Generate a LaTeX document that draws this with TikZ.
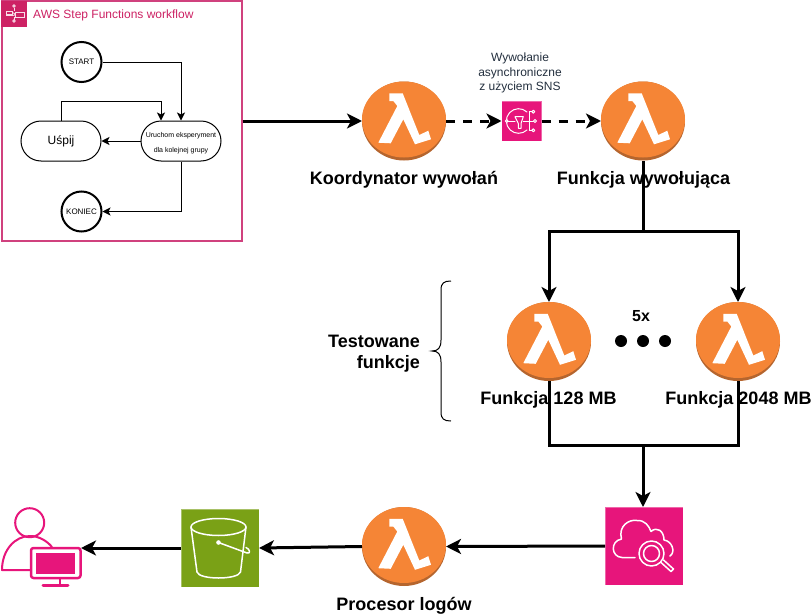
\documentclass[tikz,border=0pt]{standalone}
\usepackage{fontspec}
\setmainfont{Liberation Sans}
\usetikzlibrary{arrows.meta,shapes.geometric,decorations.pathreplacing}
\definecolor{lamorange}{HTML}{F58536}
\definecolor{lamshadow}{HTML}{B5652E}
\definecolor{awspink}{HTML}{E7157B}
\definecolor{sfpink}{HTML}{CD2264}
\definecolor{framepink}{HTML}{D0417E}
\definecolor{bucketgreen}{HTML}{7AA116}
\definecolor{slatetext}{HTML}{232F3E}
\tikzset{
  lambdanode/.style={ellipse,minimum width=84pt,minimum height=79pt,inner sep=0pt,outer sep=0pt},
  conn/.style={draw=black,line width=3pt,-{Stealth[length=15pt,width=15pt,inset=4pt]}},
  connplain/.style={draw=black,line width=3pt},
  dashconn/.style={conn,dash pattern=on 9pt off 8pt},
  thinconn/.style={draw=black,line width=1pt,-{Stealth[length=8pt,width=8pt,inset=2pt]}},
  titlelabel/.style={font=\bfseries\fontsize{18}{21}\selectfont,inner sep=0pt,align=center},
  statecircle/.style={circle,draw=black,line width=2pt,minimum size=40pt,inner sep=0pt,font=\fontsize{8}{10}\selectfont},
  statepill/.style={rounded corners=20pt,draw=black,line width=1pt,minimum width=80pt,minimum height=40pt,inner sep=0pt},
  iconbox/.style={inner sep=0pt,outer sep=0pt,draw opacity=.35,draw=white,line width=.8pt},
  iconline/.style={draw=white,line width=1.5pt,fill=none,line cap=round,line join=round},
  userline/.style={draw=awspink,line width=2pt,fill=none,line join=round,line cap=round}
}
\newcommand{\lambdaicon}[3]{%
  \fill[lamshadow] (#2,#3) ellipse [x radius=42pt,y radius=39.5pt];
  \fill[lamorange] (#2,#3-1.5) ellipse [x radius=42pt,y radius=38pt];
  \node[lambdanode] (#1) at (#2,#3) {};
  \fill[white,shift={(#2,#3)}] (-14.7,-27.7) -- (-1.3,-27.7) -- (15.3,14) -- (24.3,9.7) -- (27,18.3)
    -- (11,23.3) -- (-0.7,-1.7) -- (-13.3,22.3) -- (-25.7,21.7) -- (-6.7,-15) -- (-10.7,-20) -- (-14.7,-20) -- cycle;
}
\begin{document}
\begin{tikzpicture}[x=1pt,y=-1pt]
\useasboundingbox (0,0) rectangle (812,616);
% workflow frame
\node[draw=framepink,line width=2pt,fill=white,minimum width=240pt,minimum height=240pt,inner sep=0pt,outer sep=1pt] (frame) at (121.5,121) {};
\fill[sfpink] (1,1) rectangle (26.5,26.5);
\begin{scope}[draw=white!85!sfpink,line width=.8pt]
  \draw (6,11) rectangle (12.5,14) (6,15.5) -- (12.5,15.5);
  \draw (15,12.5) rectangle (24,17);
  \draw (12.5,12.5) -- (15,14) (12.5,15.5) -- (15,15);
  \draw (14,7.5) -- (14,11) (14,17) -- (14,20);
  \draw (14,6) circle (1.3pt) (14,21) circle (1.3pt);
\end{scope}
\node[anchor=west,inner sep=0pt,text=sfpink,font=\fontsize{12}{14}\selectfont] (frametitle) at (33,15) {AWS Step Functions workflow};
\node[statecircle,text depth=-1pt] (start) at (81.5,62) {START};
\node[statecircle,text depth=-1pt] (koniec) at (81.5,211.5) {KONIEC};
\node[statepill,font=\fontsize{12}{14}\selectfont] (uspij) at (61,141) {Uśpij};
\node[statepill] (uruchom) at (181,141) {};
\node[inner sep=0pt,align=center,font=\fontsize{7}{15}\selectfont] (uruchomtext) at (181,143.5) {Uruchom eksperyment\\dla kolejnej grupy};
\coordinate (sleepa) at (61,101);
\coordinate (sleepb) at (161,101);
\draw[thinconn] (start.east) -| (uruchom.north);
\draw[thinconn] (uspij.north) -- (sleepa) -- (sleepb) -- (uruchom.north -| sleepb);
\draw[thinconn] (uruchom.west) -- (uspij.east);
\draw[thinconn] (uruchom.south) |- (koniec.east);
% lambdas
\lambdaicon{coord}{404}{121}
\lambdaicon{invoker}{643}{121}
\lambdaicon{fsmall}{549}{341.5}
\lambdaicon{fbig}{738}{341.5}
\lambdaicon{proc}{404}{546.5}
% labels
\node[titlelabel] (lcoord) at (404,179.5) {Koordynator wywołań};
\node[titlelabel] (linvoker) at (643.5,179.5) {Funkcja wywołująca};
\node[titlelabel] (lsmall) at (548.5,399.5) {Funkcja 128 MB};
\node[titlelabel] (lbig) at (738.5,399.5) {Funkcja 2048 MB};
\node[titlelabel] (lproc) at (404,605.5) {Procesor logów};
\node[titlelabel,font=\bfseries\fontsize{16}{19}\selectfont] (lfive) at (641,316) {5x};
\node[titlelabel,align=right,anchor=east,font=\bfseries\fontsize{18}{21.5}\selectfont] (ltest) at (420,353.5) {Testowane\\funkcje};
\node[inner sep=0pt,align=center,text=slatetext,font=\fontsize{12}{14.5}\selectfont] (lsns) at (520,73) {Wywołanie\\asynchroniczne\\z użyciem SNS};
% dots
\fill[black] (621,341) circle (6pt) (643,341) circle (6pt) (665,341) circle (6pt);
% brace
\draw[line width=1pt,black] (451,281) .. controls (444,281) and (441,283) .. (441,290) -- (441,340)
  .. controls (441,348) and (438,351) .. (432,351) .. controls (438,351) and (441,354) .. (441,362)
  -- (441,412) .. controls (441,419) and (444,421) .. (451,421);
% SNS
\node[fill=awspink,iconbox,minimum size=40pt] (sns) at (521.5,121) {};
\begin{scope}[shift={(521.5,121)},iconline/.append style={line width=1pt}]
  \draw[iconline] (5.5,-9) arc[start angle=-47,end angle=-313,radius=12.3];
  \draw[iconline] (-14.2,0) -- (-6.5,0) (1.8,0) -- (12,0) (7.8,-9.3) -- (7.8,9.3) (7.8,-9.3) -- (10.5,-9.3) (7.8,9.3) -- (10.5,9.3);
  \draw[iconline] (-6.5,-4.3) -- (1.8,-4.3) -- (-0.5,2.5) -- (-0.5,7.3) -- (-3.2,7.3) -- (-3.2,2.5) -- cycle;
  \draw[iconline,fill=awspink] (-14.8,0) circle (1.4pt) (11.8,-9.3) circle (1.5pt) (13.5,0) circle (1.5pt) (11.8,9.3) circle (1.5pt);
\end{scope}
% CloudWatch
\node[fill=awspink,iconbox,minimum size=78pt] (cw) at (644,546) {};
\draw[iconline] (635,557.5) -- (622,557.5) .. controls (611,557) and (610,541) .. (621.5,539)
  .. controls (618,526) and (629,519) .. (637,520.5) .. controls (645,520) and (649,526) .. (651,531.5)
  .. controls (657,526) and (664,531) .. (664,540) .. controls (672,541) and (676,552) .. (670,556);
\draw[iconline,fill=awspink] (651.5,553.5) circle (12.5pt);
\draw[iconline] (651.5,553.5) circle (8pt);
\draw[iconline] (661,562.5) -- (671,571.5) -- (673.5,569) -- (663.5,560);
% bucket
\node[fill=bucketgreen,iconbox,minimum size=78pt] (bucket) at (220,548) {};
\begin{scope}[iconline]
  \draw (218.5,527) ellipse [x radius=27.5pt,y radius=8.5pt];
  \draw (191,527) -- (197,572) .. controls (199,580) and (238,580) .. (240.5,572) -- (246,527);
  \draw (218.5,542.5) -- (247,553) .. controls (251,554) and (250,549) .. (246,547.5);
  \fill[white] (218.5,542.5) circle (2.3pt);
\end{scope}
% user
\node[inner sep=0pt,outer sep=0pt,minimum width=79pt,minimum height=64pt] (user) at (41.5,548) {};
\draw[userline] (29.7,522.7) circle (14.5pt);
\draw[userline] (30,570) -- (2,570) .. controls (2,550) and (15,536) .. (30,536) .. controls (39,536) and (47,541) .. (52,547);
\draw[userline,fill=white,rounded corners=2.5pt,line width=2.5pt] (31,548) rectangle (80.5,578);
\fill[awspink] (36,552.5) rectangle (75,574);
\draw[awspink,line width=2pt] (60,578) -- (60,585);
\draw[awspink,line width=3pt,line cap=round] (43,585.5) -- (68,585.5);
% connectors
\coordinate (split) at (643,231);
\coordinate (merge) at (643,445);
\draw[conn] (frame.east) -- (coord.west);
\draw[dashconn] (coord.east) -- (sns.west);
\draw[dashconn] (sns.east) -- (invoker.west);
\draw[connplain] (invoker.south) -- (split);
\draw[conn] (split) -| (fsmall.north);
\draw[conn] (split) -| (fbig.north);
\draw[connplain] (fsmall.south) |- (merge);
\draw[connplain] (fbig.south) |- (merge);
\draw[conn] (merge) -- (cw.north -| merge);
\draw[conn] (cw.west) -- (proc.east);
\draw[conn] (proc.west) -- (bucket.east);
\draw[conn] (bucket.west) -- (user.east);
\end{tikzpicture}
\end{document}
